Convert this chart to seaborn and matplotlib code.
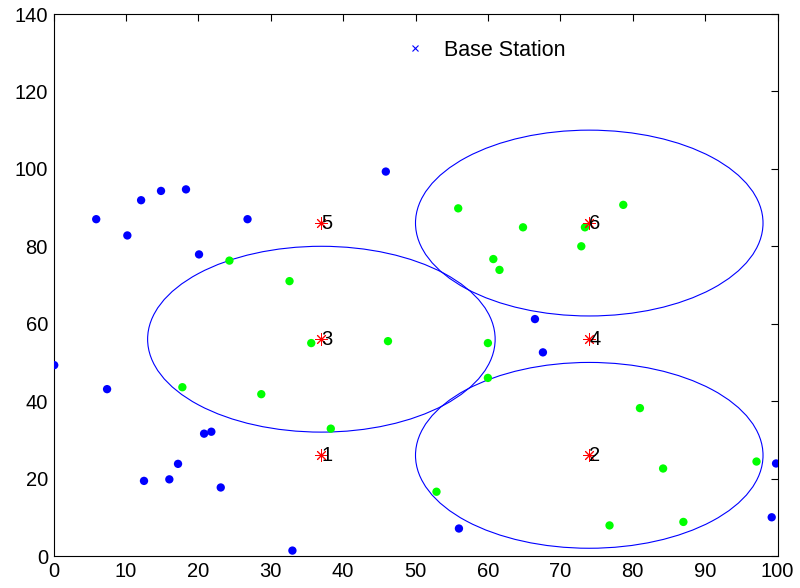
import numpy as np
import pandas as pd
import matplotlib
matplotlib.use("Agg")
import matplotlib.pyplot as plt
from matplotlib.lines import Line2D
from matplotlib.patches import Ellipse
import seaborn as sns

# Uncovered nodes (blue)
blue_x = [5.9, 10.2, 12.1, 14.85, 18.3, 20.1, 26.8, 45.9, 0.1, 7.4, 20.8, 21.8,
          17.2, 12.5, 16.0, 23.1, 33.0, 66.5, 67.6, 56.0, 99.8, 99.2]
blue_y = [87.0, 82.8, 91.9, 94.3, 94.7, 77.9, 87.0, 99.3, 49.3, 43.1, 31.6, 32.1,
          23.8, 19.4, 19.8, 17.7, 1.4, 61.2, 52.6, 7.1, 23.9, 10.0]

# Covered nodes (green)
green_x = [24.3, 32.6, 55.9, 64.85, 60.75, 61.6, 72.9, 73.4, 78.7, 17.8, 28.7,
           35.6, 46.2, 38.3, 60.0, 60.0, 81.0, 84.2, 97.1, 52.9, 76.8, 87.0]
green_y = [76.3, 71.0, 89.8, 84.9, 76.7, 73.9, 80.0, 84.9, 90.7, 43.6, 41.8,
           55.0, 55.5, 32.9, 55.0, 46.0, 38.2, 22.6, 24.4, 16.6, 7.9, 8.8]

# Candidate base station positions (red stars)
bs_x = [37, 74, 37, 74, 37, 74]
bs_y = [26, 26, 56, 56, 86, 86]
bs_labels = ["1", "2", "3", "4", "5", "6"]

# Coverage circles around selected stations
cov_stations = [2, 3, 6]
cov_radius = 24

legend_label = "Base Station"

sns.set_style("white")
plt.rcParams['font.family'] = ['Liberation Sans', 'DejaVu Sans']
plt.rcParams['text.color'] = 'black'
plt.rcParams['axes.labelcolor'] = 'black'
plt.rcParams['xtick.color'] = 'black'
plt.rcParams['ytick.color'] = 'black'

fig = plt.figure(figsize=(8, 5.88), dpi=100)
ax = fig.add_axes([53.5 / 800, 32 / 588, 724 / 800, 542 / 588])

blue_df = pd.DataFrame({"x": blue_x, "y": blue_y})
green_df = pd.DataFrame({"x": green_x, "y": green_y})
bs_df = pd.DataFrame({"x": bs_x, "y": bs_y})

sns.scatterplot(data=blue_df, x="x", y="y", ax=ax, color=(0, 0, 1), s=36,
                edgecolor="none", legend=False, zorder=3)
sns.scatterplot(data=green_df, x="x", y="y", ax=ax, color=(0, 1, 0), s=36,
                edgecolor="none", legend=False, zorder=3)
sns.scatterplot(data=bs_df, x="x", y="y", ax=ax, color=(1, 0, 0), s=70,
                marker=(8, 2, 0), linewidth=0.7, legend=False, zorder=4)

for lx, ly, lab in zip(bs_x, bs_y, bs_labels):
    ax.text(lx, ly, lab, fontsize=14.5, ha="left", va="center", color="black",
            zorder=5)

for st in cov_stations:
    i = st - 1
    ax.add_patch(Ellipse((bs_x[i], bs_y[i]), 2 * cov_radius, 2 * cov_radius,
                         fill=False, edgecolor=(0, 0, 1), linewidth=0.8, zorder=2))

ax.set_xlim(0, 100)
ax.set_ylim(0, 140)
ax.set_xticks(np.arange(0, 101, 10))
ax.set_yticks(np.arange(0, 141, 20))
ax.set_xlabel("")
ax.set_ylabel("")
ax.tick_params(direction="in", length=5, width=0.8, top=True, right=True,
               labelsize=14.5, colors="black", labelcolor="black", pad=4)
for sp in ax.spines.values():
    sp.set_visible(True)
    sp.set_color("black")
    sp.set_linewidth(0.8)

handle = Line2D([], [], linestyle="none", marker="x", color=(0, 0, 1),
                markersize=5, markeredgewidth=0.8)
ax.legend([handle], [legend_label], loc="center left",
          bbox_to_anchor=((404.25 - 53.5) / 724, (556 - 50) / 542),
          frameon=False, fontsize=15.5, handlelength=1.0, handletextpad=0.85,
          borderpad=0, borderaxespad=0, labelcolor="black")

fig.savefig("out.png", dpi=100)
